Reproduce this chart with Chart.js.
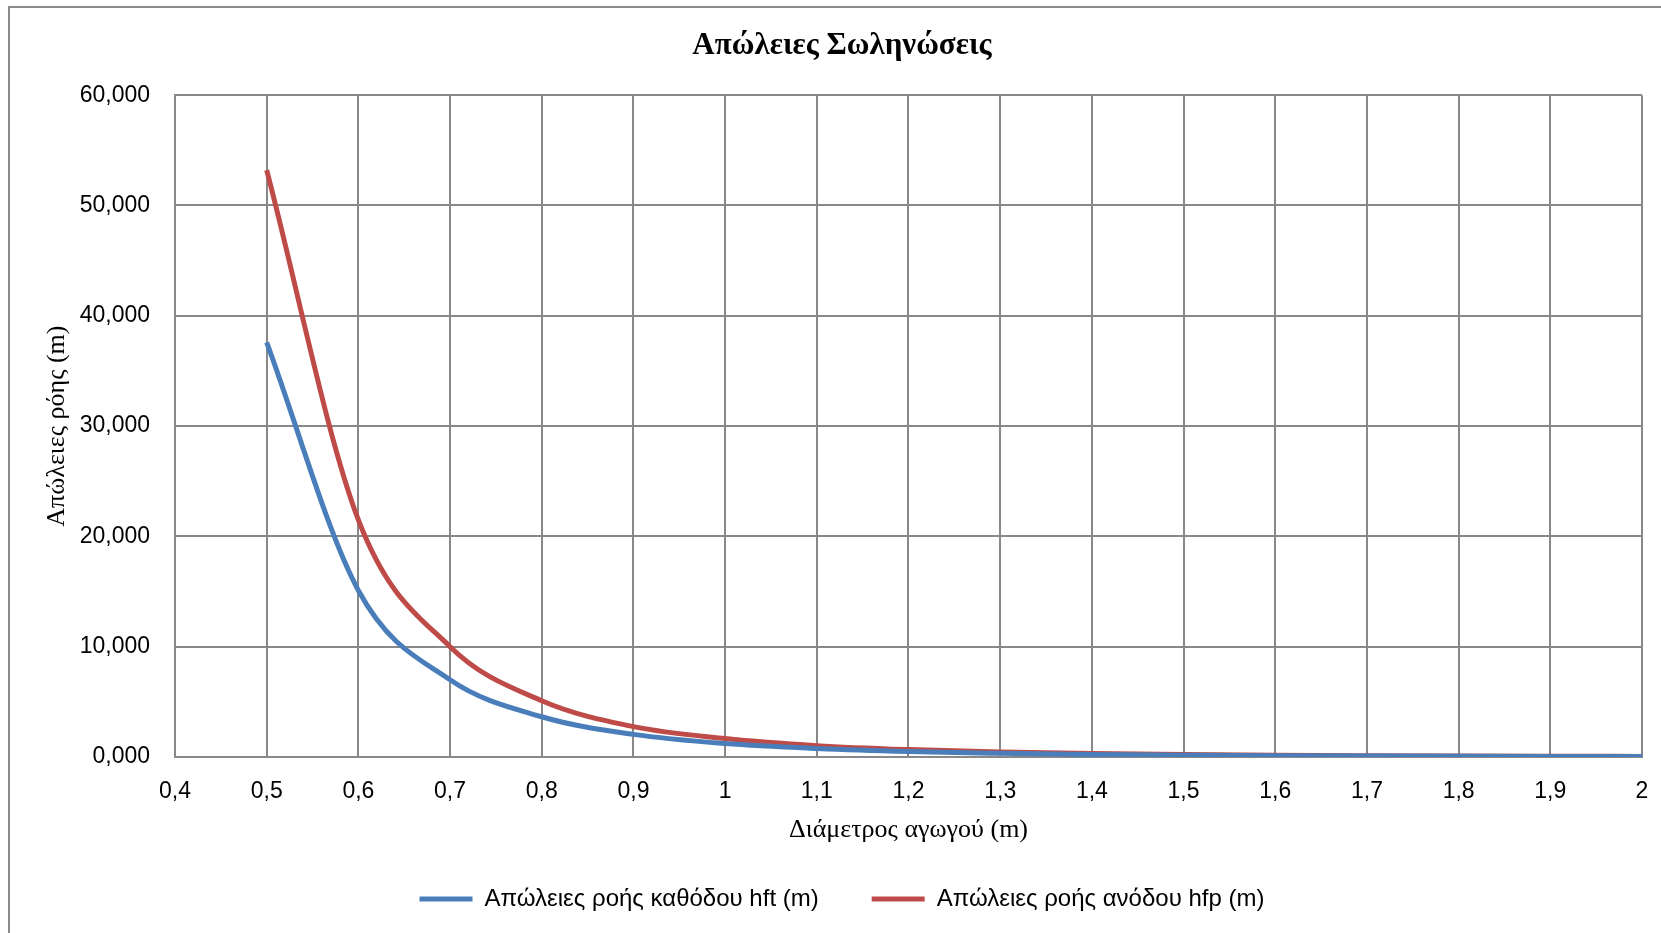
<!DOCTYPE html>
<html>
<head>
<meta charset="utf-8">
<script src="https://cdn.jsdelivr.net/npm/chart.js@4.4.1/dist/chart.umd.min.js"></script>
<style>
  html, body { margin: 0; padding: 0; background: #fff; overflow: hidden; }
  #wrap { position: relative; width: 1661px; height: 933px; }
  #frame { position: absolute; left: 8px; top: 6px; width: 1700px; height: 1000px; border: 2px solid #8c8c8c; box-sizing: border-box; }
  canvas { position: absolute; left: 0; top: 0; }
</style>
</head>
<body>
<div id="wrap">
  <div id="frame"></div>
  <canvas id="lossChart" width="1661" height="933"></canvas>
</div>
<script>
// Διάμετρος αγωγού (m)
const diameters = [0.5, 0.6, 0.7, 0.8, 0.9, 1.0, 1.1, 1.2, 1.3, 1.4, 1.5, 1.6, 1.7, 1.8, 1.9, 2.0];
// Απώλειες ροής καθόδου hft (m)
const hft = [37.6, 15.1, 7.0, 3.65, 2.05, 1.22, 0.77, 0.49, 0.33, 0.22, 0.16, 0.11, 0.085, 0.065, 0.05, 0.038];
// Απώλειες ροής ανόδου hfp (m)
const hfp = [53.2, 21.5, 10.0, 5.1, 2.75, 1.68, 1.03, 0.67, 0.45, 0.31, 0.22, 0.155, 0.117, 0.09, 0.07, 0.053];

const xTicks = { min: 0.4, max: 2, step: 0.1 };
const yTicks = { min: 0, max: 60, step: 10 };

const sans = "'Liberation Sans', Arial, sans-serif";
const serif = "'Liberation Serif', 'Times New Roman', serif";
const gridColor = '#888888';

const toPoints = arr => diameters.map((d, i) => ({ x: d, y: arr[i] }));

new Chart(document.getElementById('lossChart').getContext('2d'), {
    type: 'line',
    data: {
        datasets: [
            {
                label: 'Απώλειες ροής καθόδου hft (m)',
                data: toPoints(hft),
                borderColor: '#4A7EBB',
                backgroundColor: '#4A7EBB',
                borderWidth: 5,
                pointRadius: 0,
                cubicInterpolationMode: 'monotone'
            },
            {
                label: 'Απώλειες ροής ανόδου hfp (m)',
                data: toPoints(hfp),
                borderColor: '#BE4B48',
                backgroundColor: '#BE4B48',
                borderWidth: 5,
                pointRadius: 0,
                cubicInterpolationMode: 'monotone'
            }
        ]
    },
    options: {
        responsive: false,
        animation: false,
        layout: { padding: { left: 42, right: 19, top: 0, bottom: 12 } },
        plugins: {
            title: {
                display: true,
                text: 'Απώλειες Σωληνώσεις',
                color: '#000',
                font: { family: serif, size: 31, weight: 'bold' },
                padding: { top: 27, bottom: 31 }
            },
            legend: {
                position: 'bottom',
                labels: {
                    color: '#000',
                    font: { family: sans, size: 24 },
                    boxWidth: 53,
                    boxHeight: 5,
                    padding: 53,
                    generateLabels(chart) {
                        const items = Chart.defaults.plugins.legend.labels.generateLabels(chart);
                        items.forEach(it => { it.lineWidth = 0; });
                        return items;
                    }
                }
            },
            tooltip: { enabled: false }
        },
        scales: {
            x: {
                type: 'linear',
                min: xTicks.min,
                max: xTicks.max,
                afterFit(scale) {
                    scale.height = 77;
                    scale.paddingLeft = 0;
                    scale.paddingRight = 0;
                },
                ticks: {
                    stepSize: xTicks.step,
                    padding: 21,
                    color: '#000',
                    font: { family: sans, size: 23 },
                    callback: v => String(Number(v.toFixed(1))).replace('.', ',')
                },
                grid: { color: gridColor, lineWidth: 2, drawTicks: false },
                border: { color: gridColor, width: 2 },
                title: {
                    display: true,
                    text: 'Διάμετρος αγωγού (m)',
                    color: '#000',
                    font: { family: serif, size: 26 },
                    padding: { top: 0, bottom: -12 }
                }
            },
            y: {
                min: yTicks.min,
                max: yTicks.max,
                afterFit(scale) { scale.width = 133; },
                ticks: {
                    stepSize: yTicks.step,
                    padding: 25,
                    color: '#000',
                    font: { family: sans, size: 23 },
                    callback: v => v.toFixed(3).replace('.', ',')
                },
                grid: { color: gridColor, lineWidth: 2, drawTicks: false },
                border: { color: gridColor, width: 2 },
                title: {
                    display: true,
                    text: 'Απώλειες ρόης (m)',
                    color: '#000',
                    font: { family: serif, size: 26 },
                    padding: { top: 0, bottom: 0 }
                }
            }
        }
    }
});
</script>
</body>
</html>
